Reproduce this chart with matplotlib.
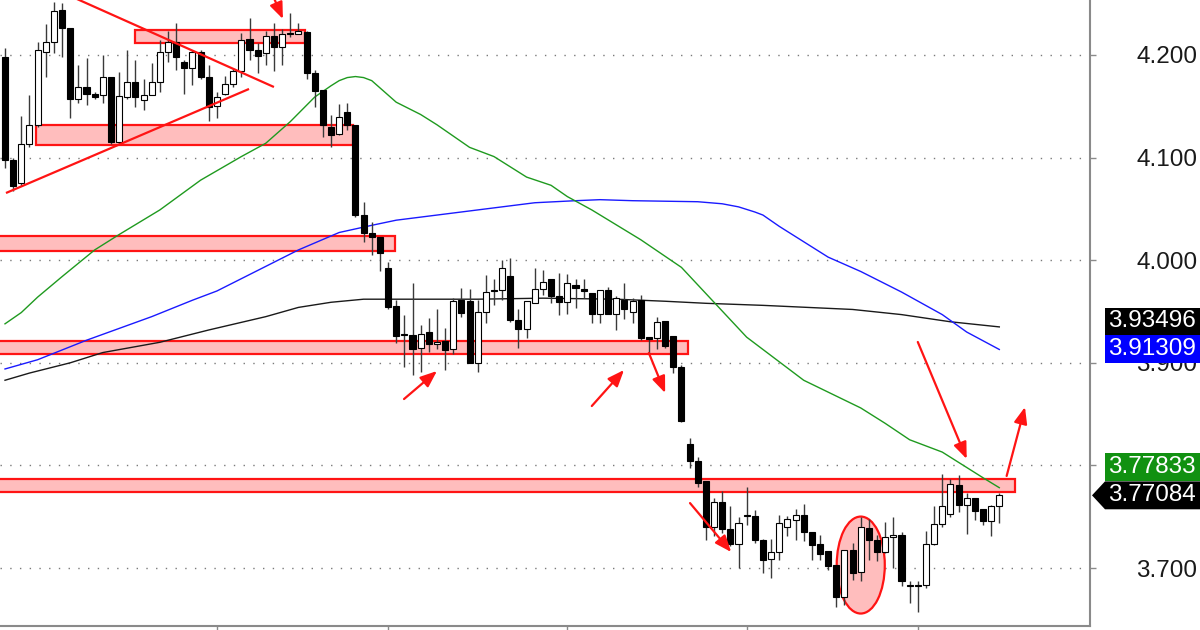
import matplotlib
matplotlib.use("Agg")
import matplotlib.pyplot as plt
from matplotlib.patches import Rectangle, Ellipse, FancyArrowPatch, Polygon
import matplotlib.transforms as mtransforms

# ---------------- data ----------------
opens = [4.198, 4.098, 4.075, 4.113, 4.132, 4.203, 4.213, 4.244, 4.226, 4.157,
         4.169, 4.162, 4.161, 4.179, 4.115, 4.159, 4.174, 4.156, 4.161, 4.174,
         4.203, 4.213, 4.193, 4.187, 4.203, 4.179, 4.150, 4.162, 4.172, 4.184,
         4.216, 4.205, 4.202, 4.219, 4.208, 4.221, 4.220, 4.222, 4.182, 4.166,
         4.130, 4.123, 4.144, 4.132, 4.044, 4.027, 4.023, 3.992, 3.955, 3.9275,
         3.927, 3.914, 3.930, 3.918, 3.921, 3.913, 3.961, 3.960, 3.900, 3.950,
         3.971, 3.971, 3.985, 3.942, 3.933, 3.958, 3.972, 3.982, 3.965, 3.959,
         3.976, 3.972, 3.968, 3.948, 3.971, 3.948, 3.961, 3.950, 3.961, 3.9255,
         3.924, 3.941, 3.926, 3.896, 3.821, 3.804, 3.785, 3.740, 3.764, 3.738,
         3.723, 3.752, 3.751, 3.727, 3.7085, 3.716, 3.740, 3.747, 3.752, 3.735,
         3.723, 3.717, 3.703, 3.6715, 3.718, 3.696, 3.739, 3.727, 3.716, 3.7306,
         3.732, 3.6834, 3.6834, 3.683, 3.723, 3.743, 3.753, 3.781, 3.761, 3.768,
         3.758, 3.746, 3.760]
closes = [4.098, 4.072, 4.113, 4.132, 4.205, 4.213, 4.243, 4.226, 4.157, 4.169,
          4.162, 4.159, 4.179, 4.115, 4.160, 4.174, 4.159, 4.161, 4.174, 4.203,
          4.213, 4.198, 4.187, 4.203, 4.179, 4.149, 4.159, 4.172, 4.184, 4.215,
          4.205, 4.199, 4.219, 4.208, 4.220, 4.2203, 4.223, 4.182, 4.165, 4.132,
          4.122, 4.140, 4.132, 4.044, 4.027, 4.023, 4.007, 3.954, 3.926, 3.9268,
          3.913, 3.928, 3.918, 3.9206, 3.9125, 3.960, 3.949, 3.900, 3.950, 3.969,
          3.9703, 3.992, 3.942, 3.933, 3.960, 3.972, 3.979, 3.965, 3.959, 3.978,
          3.973, 3.970, 3.948, 3.971, 3.948, 3.963, 3.952, 3.960, 3.924, 3.923,
          3.940, 3.916, 3.896, 3.843, 3.804, 3.783, 3.740, 3.764, 3.738, 3.723,
          3.744, 3.751, 3.727, 3.708, 3.716, 3.744, 3.7474, 3.752, 3.735, 3.722,
          3.714, 3.702, 3.6715, 3.718, 3.6955, 3.740, 3.727, 3.716, 3.730, 3.7322,
          3.687, 3.6828, 3.6828, 3.723, 3.743, 3.760, 3.782, 3.761, 3.768, 3.756,
          3.746, 3.760, 3.77084]
highs = [4.207, 4.100, 4.141, 4.161, 4.213, 4.230, 4.252, 4.251, 4.226, 4.190,
         4.197, 4.164, 4.200, 4.179, 4.183, 4.205, 4.195, 4.177, 4.192, 4.215,
         4.223, 4.231, 4.195, 4.205, 4.205, 4.190, 4.164, 4.180, 4.187, 4.221,
         4.236, 4.212, 4.223, 4.231, 4.225, 4.241, 4.231, 4.223, 4.185, 4.166,
         4.142, 4.152, 4.153, 4.132, 4.057, 4.037, 4.023, 3.998, 3.961, 3.947,
         3.978, 3.937, 3.944, 3.952, 3.934, 3.963, 3.973, 3.972, 3.961, 3.986,
         3.982, 4.000, 4.002, 3.952, 3.960, 3.992, 3.990, 3.982, 3.988, 3.987,
         3.982, 3.982, 3.968, 3.971, 3.974, 3.965, 3.978, 3.963, 3.966, 3.9255,
         3.945, 3.941, 3.926, 3.898, 3.827, 3.808, 3.785, 3.768, 3.775, 3.760,
         3.750, 3.779, 3.757, 3.728, 3.728, 3.752, 3.751, 3.758, 3.762, 3.7354,
         3.732, 3.717, 3.703, 3.718, 3.724, 3.750, 3.748, 3.732, 3.745, 3.750,
         3.735, 3.687, 3.687, 3.736, 3.760, 3.792, 3.787, 3.791, 3.773, 3.768,
         3.758, 3.761, 3.773]
lows = [4.090, 4.067, 4.072, 4.110, 4.130, 4.179, 4.202, 4.198, 4.139, 4.153,
        4.151, 4.157, 4.153, 4.113, 4.113, 4.157, 4.149, 4.146, 4.161, 4.164,
        4.193, 4.185, 4.162, 4.171, 4.177, 4.136, 4.139, 4.161, 4.169, 4.179,
        4.195, 4.182, 4.190, 4.184, 4.190, 4.218, 4.220, 4.177, 4.149, 4.120,
        4.110, 4.122, 4.127, 4.042, 4.018, 4.005, 3.989, 3.952, 3.919, 3.896,
        3.888, 3.891, 3.911, 3.913, 3.893, 3.909, 3.945, 3.8995, 3.891, 3.939,
        3.956, 3.961, 3.940, 3.914, 3.924, 3.958, 3.966, 3.958, 3.947, 3.948,
        3.953, 3.963, 3.939, 3.939, 3.948, 3.932, 3.943, 3.939, 3.922, 3.909,
        3.913, 3.914, 3.890, 3.842, 3.797, 3.779, 3.727, 3.731, 3.734, 3.721,
        3.700, 3.742, 3.724, 3.695, 3.690, 3.708, 3.731, 3.727, 3.726, 3.708,
        3.708, 3.698, 3.662, 3.664, 3.688, 3.687, 3.708, 3.707, 3.715, 3.700,
        3.682, 3.666, 3.657, 3.681, 3.722, 3.740, 3.750, 3.755, 3.733, 3.747,
        3.742, 3.731, 3.744]

# moving averages, read at selected bar numbers
ma_green_idx = [0, 2, 4, 7, 11, 14, 19, 24, 29, 32, 35, 38, 40, 41, 42, 43, 44, 45, 46,
                48, 51, 53, 57, 60, 64, 67, 69, 72, 78, 83, 87, 91, 98, 105, 108, 111,
                115, 120, 122]
ma_green = [3.938, 3.949, 3.964, 3.984, 4.010, 4.025, 4.049, 4.078, 4.101, 4.114, 4.135,
            4.159, 4.170, 4.175, 4.178, 4.179, 4.178, 4.175, 4.168, 4.154, 4.142, 4.132,
            4.110, 4.101, 4.081, 4.073, 4.062, 4.049, 4.020, 3.993, 3.959, 3.925, 3.883,
            3.856, 3.841, 3.825, 3.813, 3.788, 3.7783]
ma_blue_idx = [0, 4, 10, 18, 23, 26, 36, 41, 45, 48, 58, 65, 70, 73, 77, 85, 88, 90, 92,
               93, 95, 98, 101, 105, 110, 115, 118, 122]
ma_blue = [3.894, 3.903, 3.922, 3.945, 3.961, 3.970, 4.010, 4.027, 4.034, 4.039, 4.049,
           4.056, 4.058, 4.059, 4.058, 4.057, 4.055, 4.052, 4.047, 4.044, 4.033, 4.018,
           4.003, 3.989, 3.969, 3.947, 3.930, 3.913]
ma_black_idx = [0, 3, 8, 12, 19, 25, 32, 36, 40, 44, 48, 58, 66, 75, 81, 86, 93, 104,
                110, 116, 122]
ma_black = [3.883, 3.890, 3.900, 3.910, 3.920, 3.932, 3.945, 3.954, 3.959, 3.962, 3.962,
            3.962, 3.963, 3.962, 3.960, 3.958, 3.956, 3.952, 3.947, 3.940, 3.935]

price_ticks = [3.7, 3.8, 3.9, 4.0, 4.1, 4.2]
# 3.800 sits fully under the green value tag in the reference
price_tick_labels = ["3.700", "", "3.900", "4.000", "4.100", "4.200"]
time_tick_idx = [26, 47, 69, 91, 112]

# right-hand value tags: (value, box colour)
tag_values = [3.93496, 3.91309, 3.77833, 3.77084]
tag_colors = ["#000000", "#0000ff", "#119111", "#000000"]

# red drawing annotations
zone_x0 = [15.95, 3.8, -3.0, -3.0, -3.0]
zone_x1 = [36.8, 42.7, 47.85, 83.8, 123.9]
zone_lo = [4.2117, 4.1123, 4.0090, 3.9086, 3.7741]
zone_hi = [4.2244, 4.1318, 4.0236, 3.9213, 3.7867]

trend_x0 = [7.5, 0.12]
trend_y0 = [4.2593, 4.0655]
trend_x1 = [33.0, 29.94]
trend_y1 = [4.1688, 4.1669]

arrow_x0 = [33.0, 48.96, 72.0, 79.0, 84.05, 112.0, 122.9]
arrow_y0 = [4.2555, 3.8647, 3.8579, 3.9096, 3.7633, 3.9203, 3.7897]
arrow_x1 = [34.1, 53.0, 75.95, 81.0, 89.1, 118.0, 125.15]
arrow_y1 = [4.2351, 3.8920, 3.8930, 3.8706, 3.7156, 3.8063, 3.8569]

ellipse_center = (105.0, 3.7029)
ellipse_size = (5.9, 0.0945)

# ---------------- drawing ----------------
plt.rcParams['font.family'] = ['Liberation Sans', 'DejaVu Sans']
W, H = 1200, 630
fig = plt.figure(figsize=(W / 100, H / 100), dpi=100)
fig.patch.set_facecolor("white")
ax = fig.add_axes([0, 4 / H, 1090 / W, 626 / H])
ax.set_facecolor("white")

RED = "#ff1414"
PINK = "#ffbdbd"

# zones
for x0, x1, lo, hi in zip(zone_x0, zone_x1, zone_lo, zone_hi):
    ax.add_patch(Rectangle((x0, lo), x1 - x0, hi - lo, facecolor=PINK,
                           edgecolor=RED, linewidth=1.6, zorder=1.5))
ax.add_patch(Ellipse(ellipse_center, ellipse_size[0], ellipse_size[1],
                     facecolor=PINK, edgecolor=RED, linewidth=1.6, zorder=1.5))

# moving averages
ax.plot(ma_black_idx, ma_black, color="#1a1a1a", lw=1.0, zorder=2)
ax.plot(ma_blue_idx, ma_blue, color="#1a1aff", lw=1.0, zorder=2)
ax.plot(ma_green_idx, ma_green, color="#1f9a1f", lw=1.0, zorder=2)

# candles
n = len(opens)
xs = list(range(n))
ax.vlines(xs, lows, highs, color="#3a3a3a", lw=1.0, zorder=3)
bottoms = [min(o, c) for o, c in zip(opens, closes)]
heights = [max(abs(c - o), 0.0009) for o, c in zip(opens, closes)]
faces = ["white" if c >= o else "black" for o, c in zip(opens, closes)]
ax.bar(xs, heights, bottom=bottoms, width=0.74, color=faces, edgecolor="black",
       linewidth=0.8, zorder=4)

# trend lines and arrows
for x0, y0, x1, y1 in zip(trend_x0, trend_y0, trend_x1, trend_y1):
    ax.plot([x0, x1], [y0, y1], color=RED, lw=1.6, zorder=6, solid_capstyle="butt")
for x0, y0, x1, y1 in zip(arrow_x0, arrow_y0, arrow_x1, arrow_y1):
    ax.add_patch(FancyArrowPatch((x0, y0), (x1, y1),
                                 arrowstyle="-|>,head_length=10,head_width=4",
                                 mutation_scale=1, color=RED, lw=1.6,
                                 shrinkA=0, shrinkB=0, zorder=6))

# axes styling
ax.set_xlim(-5 / 8.15, -5 / 8.15 + 1090 / 8.15)
ax.set_ylim(3.6435, 4.2536)
for s in ["top", "left"]:
    ax.spines[s].set_visible(False)
for s in ["right", "bottom"]:
    ax.spines[s].set_color("#8a8a8a")
    ax.spines[s].set_linewidth(1.5)
ax.yaxis.tick_right()
ax.set_yticks(price_ticks)
ax.set_yticklabels(price_tick_labels)
ax.tick_params(axis="y", length=4.5, width=1, color="#8a8a8a", pad=29,
               labelsize=17.5, labelcolor="#1a1a1a")
ax.set_xticks(time_tick_idx)
ax.set_xticklabels([])
ax.tick_params(axis="x", length=4, width=1, color="#8a8a8a")
ax.yaxis.grid(True, linestyle=(0, (1, 6)), color="#7a7a7a", lw=1.0)
ax.set_axisbelow(True)

# value tags at right
trans = mtransforms.blended_transform_factory(fig.transFigure, ax.transData)
hbox = 0.0272
centers = [tag_values[1] + hbox, tag_values[1], tag_values[3] + hbox, tag_values[3]]
xl, xr, xtip = 1105 / W, 1.0, 1092 / W
for k, (v, col, cy) in enumerate(zip(tag_values, tag_colors, centers)):
    if k == 3:
        pts = [(xtip, cy), (xl, cy + hbox / 2), (xr, cy + hbox / 2),
               (xr, cy - hbox / 2), (xl, cy - hbox / 2)]
    else:
        pts = [(xl, cy + hbox / 2), (xr, cy + hbox / 2),
               (xr, cy - hbox / 2), (xl, cy - hbox / 2)]
    poly = Polygon(pts, closed=True, facecolor=col, edgecolor="none",
                   transform=trans, clip_on=False, zorder=10)
    ax.add_patch(poly)
    ax.text((xl + xr) / 2 - 0.5 / W, cy, f"{v:.5f}", transform=trans, ha="center",
            va="center", color="white", fontsize=17.5, clip_on=False, zorder=11)

ax.set_xlim(-5 / 8.15, -5 / 8.15 + 1090 / 8.15)
ax.set_ylim(3.6435, 4.2536)
fig.savefig("out.png", dpi=100, facecolor="white")
